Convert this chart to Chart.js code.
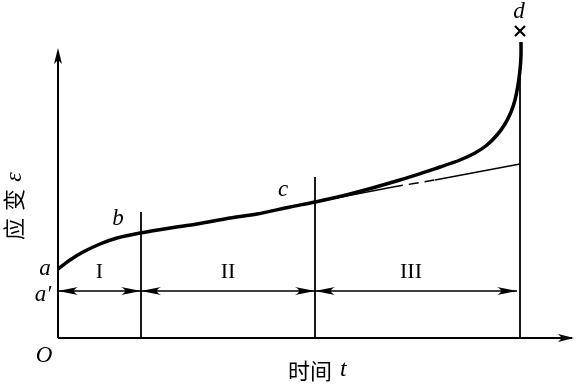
<!DOCTYPE html>
<html><head><meta charset="utf-8">
<script src="https://cdn.jsdelivr.net/npm/chart.js@4/dist/chart.umd.min.js"></script>
<style>html,body{margin:0;padding:0;background:#fff}#wrap{width:579px;height:384px}</style>
</head><body><div id="wrap"><canvas id="c" width="579" height="384"></canvas></div>
<script>
// Creep curve: time (arbitrary units) vs strain (arbitrary units)
const creepTime   = [0,12,25,42,59,82,112,139,172,199,232,257,292,342,382,402,417,429,439,447,453,457,460,462,463,463];
const creepStrain = [69,78,86,94,100,105,110,114,120,124,131,136,144,158,171,178,185,193,203,214,226,238,253,268,283,296];
// tangent of steady-state stage (from c to end), with dashed middle part
const tangentTime   = [257,335,377,462];
const tangentStrain = [136,151,158,174];
// stage boundaries (time) and top of their marker lines (strain)
const stageTime = [83,257,462];
const stageTop  = [126,161,270];
const stageNames = ['I','II','III'];
const arrowStrain = 47;     // a' level
const startStrain = 69;     // a
const endTime = 459;        // end of stage-III arrow
const fractureStrain = 307; // × mark

const pts = (xs, ys) => xs.map((x,i)=>({x, y: ys[i]}));
const line = (data, w, dash, t) => ({data, showLine:true, borderColor:'#000', borderWidth:w, pointRadius:0, borderDash:dash||[], tension:t===undefined?0.3:t, fill:false});

const stageLines = stageTime.map((t,i)=>line([{x:t,y:0},{x:t,y:stageTop[i]}],1.8));

const overlay = {
  id:'overlay',
  afterDatasetsDraw(chart){
    const ctx = chart.ctx, X = chart.scales.x, Y = chart.scales.y;
    const px = v=>X.getPixelForValue(v), py = v=>Y.getPixelForValue(v);
    ctx.save();
    ctx.strokeStyle='#000'; ctx.fillStyle='#000';
    // axes
    ctx.lineWidth=2;
    ctx.beginPath(); ctx.moveTo(px(0),py(0)); ctx.lineTo(px(0),py(285)); ctx.stroke();
    ctx.beginPath(); ctx.moveTo(px(0),py(0)); ctx.lineTo(px(514),py(0)); ctx.stroke();
    const solidHead=(x,y,dx,dy)=>{
      const L=16,W=4; const nx=-dy, ny=dx;
      ctx.beginPath(); ctx.moveTo(x,y);
      ctx.lineTo(x-dx*L+nx*W, y-dy*L+ny*W);
      ctx.lineTo(x-dx*L*0.75, y-dy*L*0.75);
      ctx.lineTo(x-dx*L-nx*W, y-dy*L-ny*W);
      ctx.closePath(); ctx.fill();
    };
    solidHead(px(0),py(290),0,-1);
    solidHead(px(516),py(0),1,0);
    // dimension arrows at a'
    ctx.lineWidth=1.3;
    const ay=py(arrowStrain);
    ctx.beginPath(); ctx.moveTo(px(0),ay); ctx.lineTo(px(endTime),ay); ctx.stroke();
    const barb=(x,dir)=>{
      const L=20,W=4;
      ctx.beginPath(); ctx.moveTo(x,ay);
      ctx.lineTo(x-dir*L,ay-W);
      ctx.quadraticCurveTo(x-dir*L*0.6,ay,x-dir*L,ay+W);
      ctx.closePath(); ctx.fill();
    };
    const bounds=[0,stageTime[0],stageTime[1],endTime];
    for(let i=0;i<3;i++){ barb(px(bounds[i]),-1); barb(px(bounds[i+1]),1); }
    // fracture mark ×
    ctx.lineWidth=2.2;
    const fx=px(stageTime[2]), fy=py(fractureStrain);
    ctx.beginPath(); ctx.moveTo(fx-5,fy-5); ctx.lineTo(fx+5,fy+5); ctx.moveTo(fx+5,fy-5); ctx.lineTo(fx-5,fy+5); ctx.stroke();
    // labels
    ctx.textAlign='center'; ctx.textBaseline='middle';
    ctx.font='italic 23px "Liberation Serif"';
    ctx.fillText('a', px(-13), py(startStrain));
    ctx.fillText('a\u2032', px(-15), py(arrowStrain-4));
    ctx.fillText('O', px(-14), py(-18));
    ctx.fillText('b', px(60), py(119));
    ctx.fillText('c', px(225), py(148));
    ctx.fillText('d', px(461), py(326));
    ctx.font='22px "Liberation Serif"';
    const mids=[(0+stageTime[0])/2,(stageTime[0]+stageTime[1])/2,(stageTime[1]+endTime)/2];
    stageNames.forEach((n,i)=>ctx.fillText(n, px(mids[i]+[0,-0,-5][i]), py(arrowStrain+19)));
    // x title
    ctx.font='22px "Noto Sans CJK SC"';
    ctx.textAlign='right';
    ctx.fillText('时间', px(274), py(-33));
    ctx.textAlign='left';
    ctx.font='italic 24px "Liberation Serif"';
    ctx.fillText('t', px(282), py(-32));
    // y title (rotated)
    ctx.translate(14, 0); ctx.rotate(-Math.PI/2);
    ctx.textAlign='center'; ctx.font='22px "Noto Sans CJK SC"';
    ctx.fillText('应', -229, 0);
    ctx.fillText('变', -200, 0);
    ctx.font='italic 24px "Liberation Serif"';
    ctx.fillText('ε', -177, 1);
    ctx.restore();
  }
};

new Chart(document.getElementById('c'), {
  type:'scatter',
  data:{datasets:[
    ...stageLines,
    line(pts(tangentTime.slice(0,2), tangentStrain.slice(0,2)),1.5),
    line(pts(tangentTime.slice(1,3), tangentStrain.slice(1,3)),1.5,[10,6]),
    line(pts(tangentTime.slice(2,4), tangentStrain.slice(2,4)),1.5),
    line(pts(creepTime, creepStrain),3.5,[],0.3)
  ]},
  options:{
    responsive:false, animation:false, devicePixelRatio:1,
    layout:{padding:0},
    plugins:{legend:{display:false}, tooltip:{enabled:false}},
    scales:{
      x:{type:'linear', display:false, min:-58, max:521},
      y:{type:'linear', display:false, min:-46, max:338}
    }
  },
  plugins:[overlay]
});
</script></body></html>
